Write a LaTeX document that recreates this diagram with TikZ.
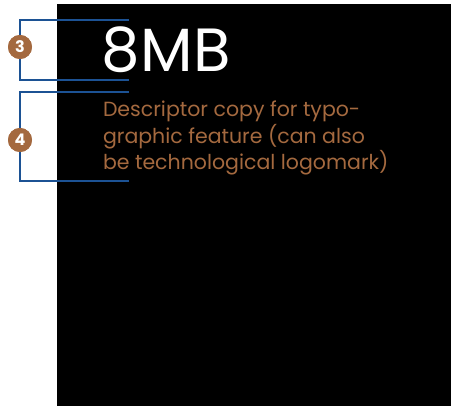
\documentclass[tikz,border=0pt]{standalone}
\usepackage{fontspec}
\setmainfont{Poppins}
\usetikzlibrary{positioning}
\definecolor{bracketblue}{HTML}{1C5294}
\definecolor{copper}{HTML}{A4693F}

\begin{document}
\begin{tikzpicture}
  [x=1pt,y=-1pt,
   every node/.style={inner sep=0pt,outer sep=0pt},
   badge/.style={circle,fill=copper,text=white,minimum size=24pt,
     font=\bfseries\fontsize{16}{16}\selectfont},
   bracket/.style={draw=bracketblue,line width=2pt}]
  \useasboundingbox (0,0) rectangle (451,406);
  \fill[black] (57,4) rectangle (451,406);
  %
  \node[anchor=base west,text=white,font=\fontsize{61}{61}\selectfont] (size) at (102,72) {8MB};
  \node[anchor=base west,text=copper,align=left,
        font=\fontsize{20.5}{26.7}\selectfont] (desc) at (103,170)
        {Descriptor copy for typo-\\graphic feature (can also\\be technological logomark)};
  %
  \coordinate (t3) at (129,20);
  \coordinate (b3) at (129,80);
  \coordinate (t4) at (129,92);
  \coordinate (b4) at (129,181);
  \node[badge] (n3) at (20,47) {3};
  \node[badge] (n4) at (20,140) {4};
  %
  \draw[bracket] (t3) -- (t3 -| n3) -- (b3 -| n3) -- (b3);
  \draw[bracket] (t4) -- (t4 -| n4) -- (b4 -| n4) -- (b4);
  \node[badge] at (n3) {3};
  \node[badge] at (n4) {4};
\end{tikzpicture}
\end{document}
